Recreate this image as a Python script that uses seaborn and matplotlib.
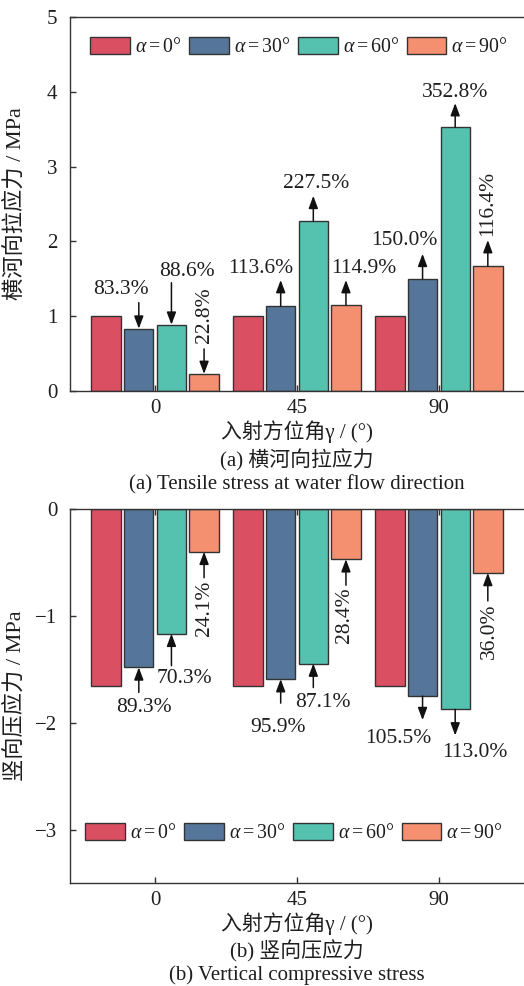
import numpy as np
import pandas as pd
import matplotlib
matplotlib.use("Agg")
import matplotlib.pyplot as plt
import seaborn as sns
from matplotlib.transforms import ScaledTranslation

# ---------------- data ----------------
gamma_levels = ["0", "45", "90"]
alpha_levels = [r"$\alpha = 0°$", r"$\alpha = 30°$", r"$\alpha = 60°$", r"$\alpha = 90°$"]

tensile_a0 = [1.0, 1.0, 1.0]
tensile_a30 = [0.833, 1.136, 1.50]
tensile_a60 = [0.886, 2.275, 3.528]
tensile_a90 = [0.228, 1.149, 1.67]

compress_a0 = [-1.66, -1.66, -1.66]
compress_a30 = [-1.482, -1.592, -1.751]
compress_a60 = [-1.167, -1.446, -1.876]
compress_a90 = [-0.40, -0.47, -0.598]

# percentage labels for alpha = 30, 60, 90 (rows) at gamma = 0, 45, 90 (cols)
tensile_pct_a30 = ["83.3%", "113.6%", "150.0%"]
tensile_pct_a60 = ["88.6%", "227.5%", "352.8%"]
tensile_pct_a90 = ["22.8%", "114.9%", "116.4%"]
compress_pct_a30 = ["89.3%", "95.9%", "105.5%"]
compress_pct_a60 = ["70.3%", "87.1%", "113.0%"]
compress_pct_a90 = ["24.1%", "28.4%", "36.0%"]

colors = ["#DB4F63", "#55769A", "#55C2AF", "#F48F70"]


def long_frame(series):
    rows = []
    for a, vals in zip(alpha_levels, series):
        for g, v in zip(gamma_levels, vals):
            rows.append({"gamma": g, "alpha": a, "value": v})
    return pd.DataFrame(rows)


df_t = long_frame([tensile_a0, tensile_a30, tensile_a60, tensile_a90])
df_c = long_frame([compress_a0, compress_a30, compress_a60, compress_a90])

# ---------------- style ----------------
sns.set_theme(style="ticks")
plt.rcParams["font.family"] = ["Liberation Serif", "Noto Sans CJK SC"]
plt.rcParams["mathtext.fontset"] = "custom"
plt.rcParams["mathtext.rm"] = "Liberation Serif"
plt.rcParams["mathtext.it"] = "Liberation Serif:italic"
plt.rcParams["axes.unicode_minus"] = True

FS = 15
TXT = "#1e1e1e"
EDGE = "#333333"

fig = plt.figure(figsize=(5.24, 9.86), dpi=100)
ax1 = fig.add_axes([70 / 524, 1 - 391 / 986, 454 / 524, 374 / 986])
ax2 = fig.add_axes([70 / 524, 1 - 883 / 986, 454 / 524, 374 / 986])

for ax, df in ((ax1, df_t), (ax2, df_c)):
    sns.barplot(data=df, x="gamma", y="value", hue="alpha", order=gamma_levels,
                hue_order=alpha_levels, palette=colors, saturation=1,
                width=0.92, gap=0.1, edgecolor=EDGE, linewidth=1.0, ax=ax)
    ax.set_xlim(-0.6, 2.6)
    for s in ax.spines.values():
        s.set_color("#333333")
        s.set_linewidth(1.0)
    ax.spines["right"].set_visible(False)
    ax.spines["top"].set_visible(True)
    ax.tick_params(axis="both", direction="in", length=4, width=1.0,
                   color="#333333", labelsize=FS, labelcolor=TXT)
    ax.tick_params(axis="y", pad=9)
    ax.tick_params(axis="x", pad=6)

ax1.set_ylim(0, 5)
ax1.set_yticks([0, 1, 2, 3, 4, 5])
ax2.set_ylim(-3.5, 0)
ax2.set_yticks([-3, -2, -1, 0])
ax2.tick_params(axis="x", top=True)

# labels
for ax, ylab, cap_cn, cap_en, ycn, yen in (
        (ax1, "横河向拉应力 / MPa", "(a) 横河向拉应力", "(a) Tensile stress at water flow direction", 460, 485),
        (ax2, "竖向压应力 / MPa", "(b) 竖向压应力", "(b) Vertical compressive stress", 951, 975)):
    ax.set_xlabel("入射方位角γ / (°)", fontsize=FS, color=TXT)
    ax.xaxis.set_label_coords(0.5, -0.108)
    ax.xaxis.label.set_va("center")
    ax.set_ylabel(ylab, fontsize=16, color=TXT)
    ax.yaxis.set_label_coords(-0.121, 0.5)
    ax.yaxis.label.set_va("center")
    fig.text(297 / 524, 1 - ycn / 986, cap_cn, ha="center", va="center", fontsize=FS, color=TXT)
    fig.text(297 / 524, 1 - yen / 986, cap_en, ha="center", va="center", fontsize=FS, color=TXT)

# legends
for ax, anchor in ((ax1, (0.044, 0.92)), (ax2, (0.033, 0.134))):
    old = ax.get_legend()
    handles = old.legend_handles
    labels = [t.get_text() for t in old.get_texts()]
    old.remove()
    for h, c in zip(handles, colors):
        h.set_facecolor(c)
        h.set_edgecolor(EDGE)
        h.set_linewidth(1.0)
    ax.legend(handles, labels, loc="center left", bbox_to_anchor=anchor, ncol=4,
              frameon=False, fontsize=14.3, handlelength=2.0, handleheight=1.0,
              handletextpad=0.25, columnspacing=0.4, borderpad=0, borderaxespad=0,
              labelcolor=TXT)

# ---------------- annotations ----------------
# (mode, arrow length px, text dx px, text dy px, rotation); 'to' = arrow points at bar
top_layout = {
    (1, 0): ("to", 26, -18, 38.7, 0), (2, 0): ("to", 42, 15, 53, 0), (3, 0): ("to", 25, 0, 58.5, 90),
    (1, 1): ("from", 26, -19.5, 38, 0), (2, 1): ("from", 25, 2.5, 37, 0), (3, 1): ("from", 25, 17.5, 37, 0),
    (1, 2): ("from", 25, -18, 38, 0), (2, 2): ("from", 24, 0, 35, 0), (3, 2): ("from", 26, 0, 63, 90),
}
bot_layout = {
    (1, 0): ("to", 25, 5.5, -40, 0), (2, 0): ("to", 32, 13, -45, 0), (3, 0): ("to", 26, 0, -56.5, 90),
    (1, 1): ("to", 24, -2.5, -48, 0), (2, 1): ("to", 24, 9.5, -39, 0), (3, 1): ("to", 26, -1.5, -56, 90),
    (1, 2): ("from", 24, -24, -42, 0), (2, 2): ("from", 26, 20, -43, 0), (3, 2): ("to", 28, 1.5, -58, 90),
}


def off(ax, dx, dy):
    return ax.transData + ScaledTranslation(dx / 100, dy / 100, fig.dpi_scale_trans)


def annotate(ax, pct_rows, layout, sign):
    for hi, row in zip([1, 2, 3], pct_rows):
        cont = ax.containers[hi]
        for gi, lab in enumerate(row):
            bar = cont[gi]
            bx = bar.get_x() + bar.get_width() / 2
            end = bar.get_y() + bar.get_height()
            mode, L, dx, dy, rot = layout[(hi, gi)]
            props = dict(arrowstyle="-|>,head_length=0.75,head_width=0.28", color="#111111",
                         lw=1.1, shrinkA=0, shrinkB=0, mutation_scale=10)
            if mode == "to":
                ax.annotate("", xy=(bx, end), xycoords="data", xytext=(bx, end),
                            textcoords=off(ax, 0, sign * L), arrowprops=props)
            else:
                ax.annotate("", xy=(bx, end), xycoords=off(ax, 0, sign * L), xytext=(bx, end),
                            textcoords="data", arrowprops=props)
            ax.text(bx, end, lab, transform=off(ax, dx, dy), ha="center", va="center",
                    rotation=rot, rotation_mode="anchor", fontsize=15.5, color=TXT)


annotate(ax1, [tensile_pct_a30, tensile_pct_a60, tensile_pct_a90], top_layout, 1)
annotate(ax2, [compress_pct_a30, compress_pct_a60, compress_pct_a90], bot_layout, -1)

fig.savefig("out.png", dpi=100)
